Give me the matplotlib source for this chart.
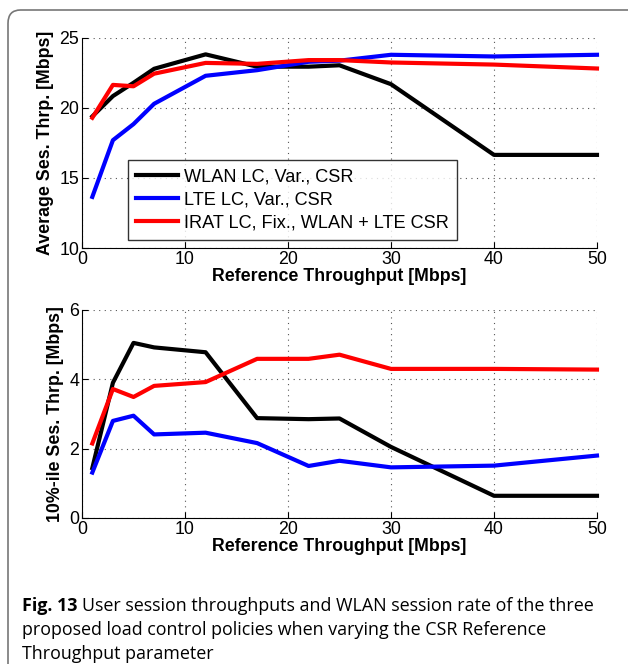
import matplotlib.pyplot as plt
from matplotlib.patches import FancyBboxPatch

# reference throughput settings [Mbps]
x_ref = [1, 3, 5, 7, 12, 17, 22, 25, 30, 40, 50]

# average session throughput [Mbps]
avg_wlan = [19.4, 20.85, 21.8, 22.8, 23.83, 22.95, 22.95, 23.05, 21.7, 16.65, 16.65]
avg_lte = [13.65, 17.7, 18.85, 20.3, 22.3, 22.7, 23.3, 23.38, 23.8, 23.68, 23.8]
avg_irat = [19.3, 21.65, 21.55, 22.45, 23.22, 23.15, 23.42, 23.42, 23.25, 23.1, 22.82]

# 10%-ile session throughput [Mbps]
p10_wlan = [1.44, 3.9, 5.05, 4.92, 4.78, 2.88, 2.85, 2.87, 2.05, 0.64, 0.64]
p10_lte = [1.31, 2.8, 2.95, 2.41, 2.46, 2.16, 1.5, 1.65, 1.46, 1.51, 1.8]
p10_irat = [2.15, 3.72, 3.49, 3.81, 3.92, 4.59, 4.59, 4.71, 4.3, 4.3, 4.28]

labels = ['WLAN LC, Var., CSR', 'LTE LC, Var., CSR', 'IRAT LC, Fix., WLAN + LTE CSR']
colors = ['black', '#0000ff', '#ff0000']

plt.rcParams['font.family'] = ['Liberation Sans', 'DejaVu Sans']
fs = 12.8
W, H = 628, 664

fig = plt.figure(figsize=(W / 100, H / 100), dpi=100)

# rounded frame around the figure (clipped at right and bottom)
frame = FancyBboxPatch((8 / W, -0.1), 1.1, 1.1 - 10 / H,
                       boxstyle='round,pad=0,rounding_size=0.02',
                       transform=fig.transFigure, fill=False,
                       edgecolor='#777777', linewidth=1.2)
fig.patches.append(frame)

ax1 = fig.add_axes([0.1306, 0.6265, 0.820, 0.3163])
ax2 = fig.add_axes([0.1306, 0.2199, 0.820, 0.3133])


def style(ax, ylim, yticks, ylabel):
    ax.set_xlim(0, 50)
    ax.set_ylim(*ylim)
    ax.set_xticks([0, 10, 20, 30, 40, 50])
    ax.set_yticks(yticks)
    ax.grid(True, linestyle=(0, (1, 4)), color='#555555', linewidth=0.8)
    ax.spines['top'].set_visible(False)
    ax.spines['right'].set_visible(False)
    ax.tick_params(direction='in', length=4, labelsize=fs, pad=2)
    ax.set_xlabel('Reference Throughput [Mbps]', fontsize=fs, fontweight='bold', labelpad=0)
    ax.set_ylabel(ylabel, fontsize=fs, fontweight='bold', labelpad=4)


for ys, lab, c in zip([avg_wlan, avg_lte, avg_irat], labels, colors):
    ax1.plot(x_ref, ys, color=c, linewidth=3, label=lab, clip_on=False)
style(ax1, (10, 25), [10, 15, 20, 25], 'Average Ses. Thrp. [Mbps]')
leg = ax1.legend(loc='lower left', bbox_to_anchor=(0.089, 0.038), fontsize=13.1,
                 frameon=True, fancybox=False, edgecolor='black',
                 handlelength=2.3, borderpad=0.45, labelspacing=0.35,
                 handletextpad=0.35, borderaxespad=0)
leg.get_frame().set_linewidth(1.0)

for ys, c in zip([p10_wlan, p10_lte, p10_irat], colors):
    ax2.plot(x_ref, ys, color=c, linewidth=3, clip_on=False)
style(ax2, (0, 6), [0, 2, 4, 6], '10%-ile Ses. Thrp. [Mbps]')

# caption: bold figure number followed by the regular text
cap_fs = 12.9
cap_font = 'Open Sans'
x0 = 22
fig.canvas.draw()
r = fig.canvas.get_renderer()
t_bold = fig.text(x0 / W, 1 - 606 / H, 'Fig. 13', fontsize=cap_fs, va='center',
                  family=cap_font, fontweight='bold')
bb = t_bold.get_window_extent(renderer=r)
fig.text((bb.x1 + 5) / W, 1 - 606 / H,
         'User session throughputs and WLAN session rate of the three',
         fontsize=cap_fs, va='center', family=cap_font)
fig.text(x0 / W, 1 - 630 / H,
         'proposed load control policies when varying the CSR Reference',
         fontsize=cap_fs, va='center', family=cap_font)
fig.text(x0 / W, 1 - 654 / H, 'Throughput parameter',
         fontsize=cap_fs, va='center', family=cap_font)

fig.savefig('out.png', dpi=100)
